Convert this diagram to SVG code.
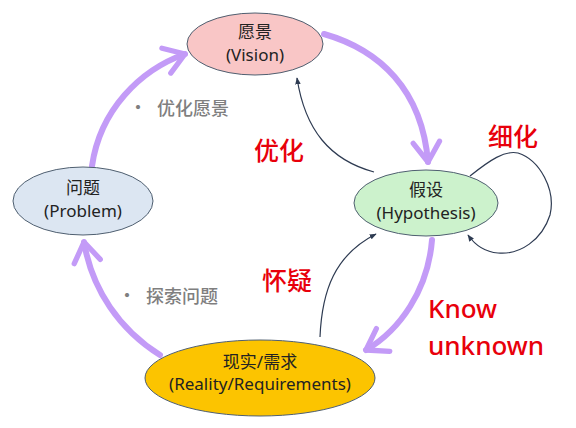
<svg xmlns="http://www.w3.org/2000/svg" width="576" height="428" viewBox="0 0 576 428">
<defs>
<style>
.node{stroke:#4f5f70;stroke-width:1}
.nt{font-family:"Noto Sans","Noto Sans CJK SC",sans-serif;font-size:17px;fill:#222;text-anchor:middle}
.big{stroke:#c39bf7;stroke-width:6;fill:none;stroke-linecap:round}
.thin{stroke:#2e3b52;stroke-width:1.2;fill:none}
.red{font-family:"Noto Sans CJK SC","Noto Sans",sans-serif;font-size:25px;fill:#e8000b;font-weight:500}
.redl{font-family:"Noto Sans","Noto Sans CJK SC",sans-serif;font-size:26px;fill:#e8000b;font-weight:500}
.gray{font-family:"Noto Sans CJK SC","Noto Sans",sans-serif;font-size:18px;fill:#7f7f7f;font-weight:500}
</style>
<marker id="ph" viewBox="0 0 10 10" refX="7" refY="5" markerWidth="5.5" markerHeight="5.5" orient="auto" markerUnits="strokeWidth">
<path d="M1,1 L7,5 L1,9" fill="none" stroke="#c39bf7" stroke-width="1.6" stroke-linecap="round" stroke-linejoin="round"/>
</marker>
<marker id="th" viewBox="0 0 10 10" refX="9" refY="5" markerWidth="7" markerHeight="7" orient="auto" markerUnits="userSpaceOnUse">
<path d="M0,1 L10,5 L0,9 Z" fill="#2e3b52"/>
</marker>
</defs>
<g id="connectors">
<path class="big" d="M324,34 C380,50 422,90 428,162" marker-end="url(#ph)"/>
<path class="big" d="M432,240 C428,290 400,330 366,350" marker-end="url(#ph)"/>
<path class="big" d="M160,355 C120,330 92,290 84,242" marker-end="url(#ph)"/>
<path class="big" d="M92,166 C100,110 140,70 185,54" marker-end="url(#ph)"/>
<path class="thin" d="M374,172 C330,160 305,130 297,78" marker-end="url(#th)"/>
<path class="thin" d="M320,337 C322,290 335,255 376,234" marker-end="url(#th)"/>
<path class="thin" d="M470,176 C490,160 505,150 518,153 C540,160 556,190 550,215 C542,240 520,255 498,253 C485,252 475,245 468,235" marker-end="url(#th)"/>
</g>
<g id="vision">
<ellipse class="node" cx="255" cy="44" rx="68" ry="31" fill="#f9c6c6"/>
<text class="nt" x="255" y="38">愿景</text>
<text class="nt" x="255" y="61">(Vision)</text>
</g>
<g id="hypothesis">
<ellipse class="node" cx="426" cy="203" rx="72" ry="33" fill="#ccf2cc"/>
<text class="nt" x="426" y="196">假设</text>
<text class="nt" x="426" y="219">(Hypothesis)</text>
</g>
<g id="problem">
<ellipse class="node" cx="83" cy="201" rx="70" ry="34" fill="#dce6f2"/>
<text class="nt" x="83" y="194">问题</text>
<text class="nt" x="83" y="217">(Problem)</text>
</g>
<g id="reality">
<ellipse class="node" cx="260" cy="378" rx="115" ry="38" fill="#fcc400"/>
<text class="nt" x="260" y="368">现实/需求</text>
<text class="nt" x="260" y="390">(Reality/Requirements)</text>
</g>
<g id="labels">
<text class="red" x="254" y="160">优化</text>
<text class="red" x="262" y="290">怀疑</text>
<text class="red" x="488" y="146">细化</text>
<text class="redl" x="428" y="318">Know</text>
<text class="redl" x="428" y="355">unknown</text>
<text class="gray" x="129" y="114">•</text>
<text class="gray" x="157" y="115">优化愿景</text>
<text class="gray" x="118" y="302">•</text>
<text class="gray" x="146" y="303">探索问题</text>
</g>
</svg>
